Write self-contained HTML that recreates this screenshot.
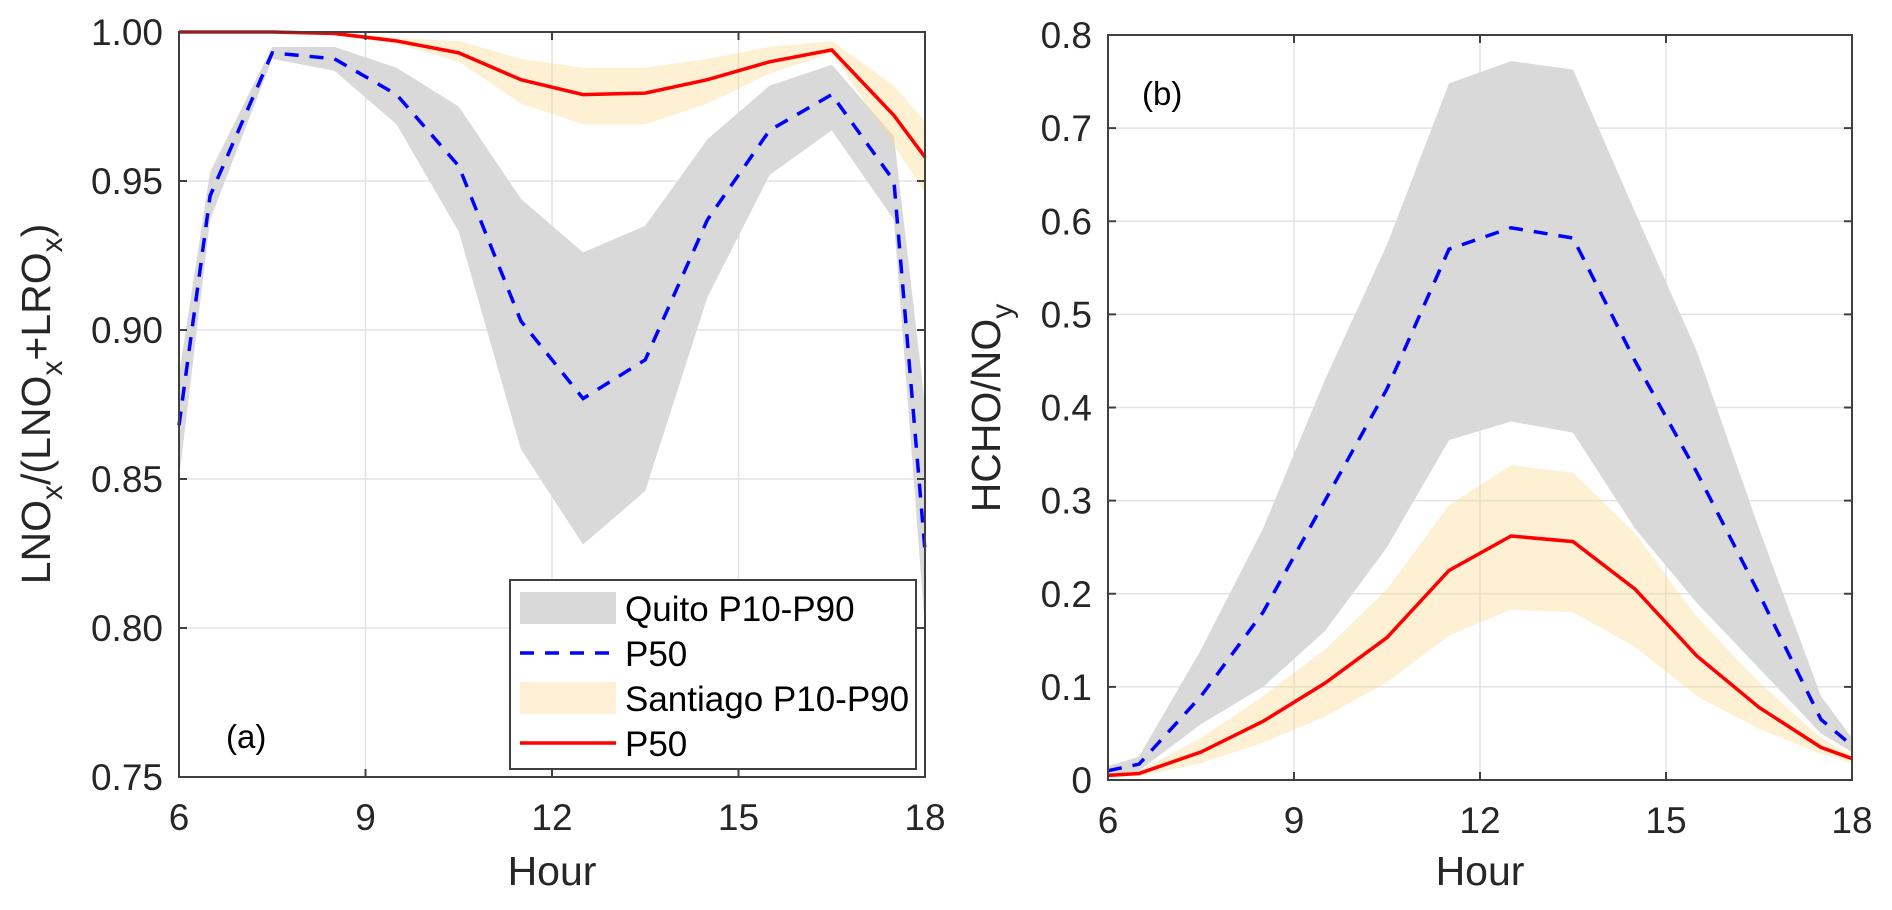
<!DOCTYPE html>
<html><head><meta charset="utf-8"><style>
html,body{margin:0;padding:0;background:#fff;}
svg{display:block;font-family:"Liberation Sans",Arial,sans-serif;}
</style></head><body>
<svg id="chart" width="1892" height="910" viewBox="0 0 1892 910" xmlns="http://www.w3.org/2000/svg"></svg>
<script>
const hours = [6,6.5,7.5,8.5,9.5,10.5,11.5,12.5,13.5,14.5,15.5,16.5,17.5,18];
// panel (a)
const aQuitoP50 = [0.868,0.945,0.993,0.991,0.979,0.955,0.903,0.877,0.890,0.937,0.967,0.979,0.950,0.826];
const aQuitoP10 = [0.850,0.937,0.991,0.987,0.969,0.933,0.860,0.828,0.846,0.911,0.952,0.967,0.937,0.800];
const aQuitoP90 = [0.885,0.953,0.995,0.995,0.988,0.975,0.944,0.926,0.935,0.964,0.982,0.989,0.965,0.875];
const aSantP50 = [1.0,1.0,1.0,0.9995,0.997,0.993,0.984,0.979,0.9795,0.984,0.990,0.994,0.972,0.958];
const aSantP10 = [1.0,1.0,1.0,0.999,0.996,0.990,0.976,0.969,0.969,0.976,0.986,0.993,0.962,0.946];
const aSantP90 = [1.0,1.0,1.0,1.0,0.998,0.997,0.991,0.988,0.988,0.991,0.995,0.997,0.982,0.970];
// panel (b)
const bQuitoP50 = [0.010,0.017,0.09,0.18,0.30,0.42,0.57,0.593,0.582,0.45,0.33,0.20,0.065,0.037];
const bQuitoP10 = [0.005,0.010,0.06,0.10,0.16,0.25,0.365,0.385,0.373,0.27,0.19,0.12,0.05,0.03];
const bQuitoP90 = [0.015,0.025,0.14,0.27,0.43,0.575,0.748,0.772,0.763,0.61,0.46,0.27,0.09,0.045];
const bSantP50 = [0.005,0.007,0.030,0.063,0.104,0.153,0.225,0.262,0.256,0.205,0.133,0.078,0.035,0.023];
const bSantP10 = [0.003,0.004,0.018,0.040,0.068,0.105,0.155,0.183,0.180,0.143,0.090,0.055,0.028,0.018];
const bSantP90 = [0.007,0.010,0.045,0.090,0.140,0.205,0.295,0.338,0.330,0.265,0.175,0.105,0.045,0.027];
const xTicks = [6,9,12,15,18];
const aYTicks = [0.75,0.80,0.85,0.90,0.95,1.00];
const aYLabels = ["0.75","0.80","0.85","0.90","0.95","1.00"];
const bYTicks = [0,0.1,0.2,0.3,0.4,0.5,0.6,0.7,0.8];
const bYLabels = ["0","0.1","0.2","0.3","0.4","0.5","0.6","0.7","0.8"];

const NS="http://www.w3.org/2000/svg";
const svg=document.getElementById('chart');
function mk(tag,attrs,parent){const e=document.createElementNS(NS,tag);for(const k in attrs)e.setAttribute(k,attrs[k]);(parent||svg).appendChild(e);return e;}

function panel(p){
  const g=mk('g',{});
  
  
  const sx=v=>p.x0+(v-6)/12*(p.x1-p.x0);
  const sy=v=>p.y1-(v-p.ymin)/(p.ymax-p.ymin)*(p.y1-p.y0);
  // grid
  xTicks.forEach(t=>{const l=mk('line',{x1:sx(t),x2:sx(t),y1:p.y0,y2:p.y1,stroke:'#e3e3e3','stroke-width':1.5},g);
    });
  p.yt.forEach(t=>{const l=mk('line',{x1:p.x0,x2:p.x1,y1:sy(t),y2:sy(t),stroke:'#e3e3e3','stroke-width':1.5},g);
    });
  const band=(lo,hi,fill,nm)=>{let d='M'+hours.map((h,i)=>sx(h)+','+sy(hi[i])).join('L');
    for(let i=hours.length-1;i>=0;i--)d+='L'+sx(hours[i])+','+sy(lo[i]);d+='Z';
    const e=mk('path',{d:d,fill:fill,stroke:'none'},g);};
  const line=(vals,col,dash,nm)=>{const e=mk('polyline',{points:hours.map((h,i)=>sx(h)+','+sy(vals[i])).join(' '),fill:'none',stroke:col,'stroke-width':3.5,'stroke-dasharray':dash},g);
    };
  band(p.qlo,p.qhi,'#d9d9d9','quito-band');
  line(p.q50,'#0000ff','14,11','quito-p50-line');
  band(p.slo,p.shi,'rgba(253,216,140,0.38)','santiago-band');
  line(p.s50,'#ff0000','none','santiago-p50-line');
  // axes box
  const r=mk('rect',{x:p.x0,y:p.y0,width:p.x1-p.x0,height:p.y1-p.y0,fill:'none',stroke:'#404040','stroke-width':2},g);
  
  xTicks.forEach(t=>{mk('line',{x1:sx(t),x2:sx(t),y1:p.y1,y2:p.y1-8,stroke:'#404040','stroke-width':2},g);
    mk('line',{x1:sx(t),x2:sx(t),y1:p.y0,y2:p.y0+8,stroke:'#404040','stroke-width':2},g);
    const tx=mk('text',{x:sx(t),y:p.y1+53,'text-anchor':'middle','font-size':37,fill:'#262626'},g);tx.textContent=t;
    });
  p.yt.forEach((t,i)=>{mk('line',{x1:p.x0,x2:p.x0+8,y1:sy(t),y2:sy(t),stroke:'#404040','stroke-width':2},g);
    mk('line',{x1:p.x1,x2:p.x1-8,y1:sy(t),y2:sy(t),stroke:'#404040','stroke-width':2},g);
    const tx=mk('text',{x:p.x0-16,y:sy(t)+13,'text-anchor':'end','font-size':37,fill:'#262626'},g);tx.textContent=p.yl[i];
    });
  const xt=mk('text',{x:(p.x0+p.x1)/2,y:885,'text-anchor':'middle','font-size':41,fill:'#262626'},g);xt.textContent='Hour';
  
  const lab=mk('text',{x:p.lx,y:p.ly,'font-size':33,fill:'#000'},g);lab.textContent=p.label;
  
  return g;
}
panel({name:'panel-a',x0:179,x1:925,y0:32,y1:777,ymin:0.75,ymax:1.0,yt:aYTicks,yl:aYLabels,
  q50:aQuitoP50,qlo:aQuitoP10,qhi:aQuitoP90,s50:aSantP50,slo:aSantP10,shi:aSantP90,label:'(a)',lx:226,ly:748});
panel({name:'panel-b',x0:1108,x1:1852,y0:35,y1:780,ymin:0,ymax:0.8,yt:bYTicks,yl:bYLabels,
  q50:bQuitoP50,qlo:bQuitoP10,qhi:bQuitoP90,s50:bSantP50,slo:bSantP10,shi:bSantP90,label:'(b)',lx:1142,ly:105});

// y-axis titles
const yt1=mk('text',{transform:'translate(50,404) rotate(-90)','text-anchor':'middle','font-size':41,fill:'#262626'});


yt1.innerHTML='LNO<tspan dy="12" font-size="30">x</tspan><tspan dy="-12">/(LNO</tspan><tspan dy="12" font-size="30">x</tspan><tspan dy="-12">+LRO</tspan><tspan dy="12" font-size="30">x</tspan><tspan dy="-12">)</tspan>';
const yt2=mk('text',{transform:'translate(1000,408) rotate(-90)','text-anchor':'middle','font-size':41,fill:'#262626'});


yt2.innerHTML='HCHO/NO<tspan dy="12" font-size="30">y</tspan>';

// legend
const lg=mk('g',{});


mk('rect',{x:510,y:580,width:406,height:189,fill:'#fff',stroke:'#404040','stroke-width':2},lg);
const rows=[['Quito P10-P90','band','#d9d9d9'],['P50','dash','#0000ff'],['Santiago P10-P90','band','#fff0d6'],['P50','line','#ff0000']];
const rowY=[608,653,698,743];
rows.forEach((r,i)=>{
  const y=rowY[i];
  const e=r[1]==='band'?mk('rect',{x:520,y:y-16,width:96,height:32,fill:r[2]},lg)
    :mk('line',{x1:520,x2:616,y1:y,y2:y,stroke:r[2],'stroke-width':3.5,'stroke-dasharray':r[1]==='dash'?'14,11':'none'},lg);
  
  
  const t=mk('text',{x:625,y:y+13,'font-size':35,fill:'#000'},lg);t.textContent=r[0];
  
  
});
</script>
</body></html>
